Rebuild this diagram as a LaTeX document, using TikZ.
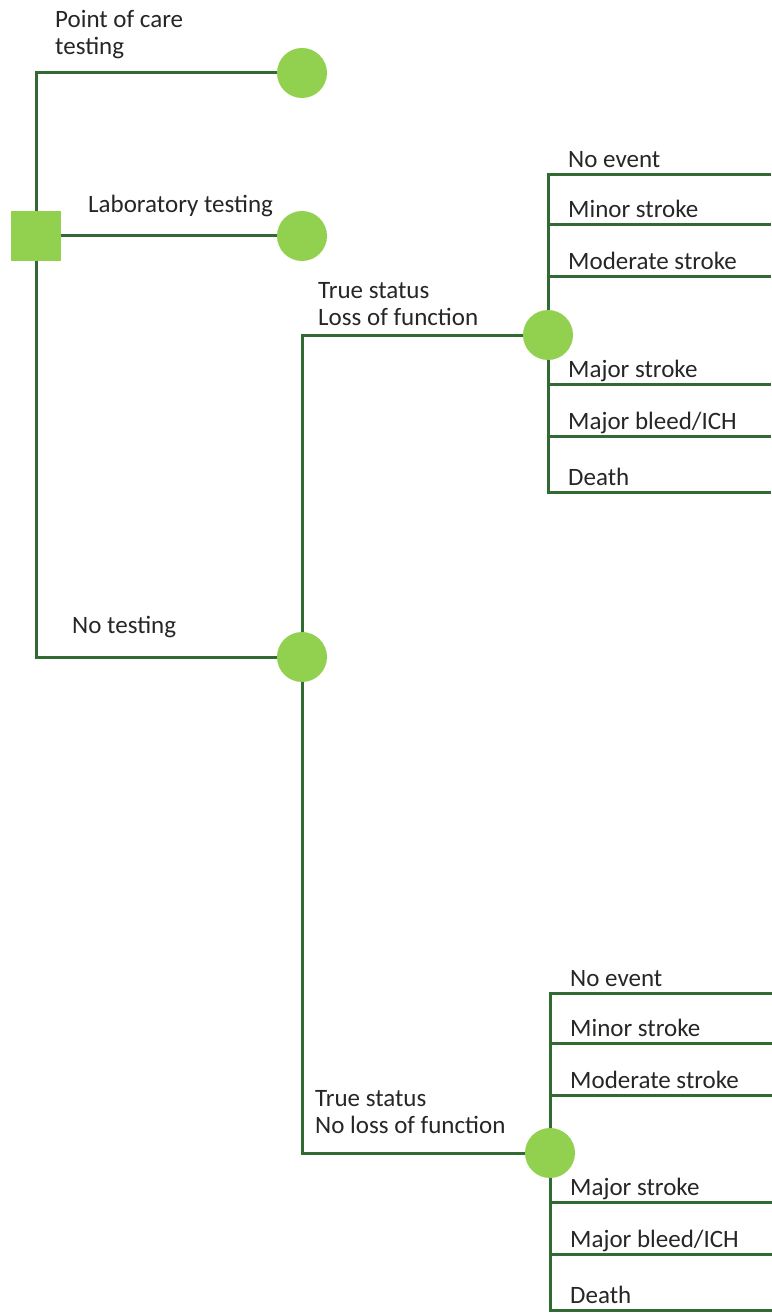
\documentclass[tikz,border=0pt]{standalone}
\usepackage{fontspec}
\setmainfont{Carlito}
\usepackage{tikz}
\definecolor{linegreen}{RGB}{50,106,52}
\definecolor{nodegreen}{RGB}{146,208,80}

\begin{document}
\begin{tikzpicture}[x=1pt, y=-1pt,
    chance/.style = {circle, fill=nodegreen, minimum size=50pt, inner sep=0pt},
    decision/.style = {rectangle, fill=nodegreen, minimum size=50pt, inner sep=0pt},
    branch/.style = {draw=linegreen, line width=3pt},
    lbl/.style = {anchor=base west, align=left, inner sep=0pt, text=black!85,
                  font=\fontsize{25}{27}\selectfont}]
    \useasboundingbox (0,0) rectangle (771,1313);
    % decision and chance nodes
    \node[decision] (dec) at (36,236) {};
    \node[chance] (poc) at (302,73) {};
    \node[chance] (lab) at (302,236) {};
    \node[chance] (notest) at (302,657) {};
    \node[chance] (tloss) at (548,335) {};
    \node[chance] (tnoloss) at (550,1153) {};
    % strategies
    \draw[branch] (dec) |- (poc);
    \draw[branch] (dec) -- (lab);
    \draw[branch] (dec) |- (notest);
    \draw[branch] (notest) |- (tloss);
    \draw[branch] (notest) |- (tnoloss);
    \node[lbl] at (55,55) {Point of care\\testing};
    \node[lbl] at (88,213) {Laboratory testing};
    \node[lbl] at (72,633) {No testing};
    \node[lbl] at (318,325) {True status\\Loss of function};
    \node[lbl] at (315,1133) {True status\\No loss of function};
    % outcomes
    \foreach \fan in {tloss, tnoloss} {
        \foreach \dy/\txt [count=\i] in {-160/No event, -110/Minor stroke, -58/Moderate stroke,
                                          49/Major stroke, 101/{Major bleed/ICH}, 157/Death} {
            \path (\fan) ++(223,\dy) coordinate (\fan-\i);
            \draw[branch] (\fan) |- (\fan-\i);
            \path (\fan) ++(20,\dy-7) node[lbl] {\txt};
        }
    }
\end{tikzpicture}
\end{document}
